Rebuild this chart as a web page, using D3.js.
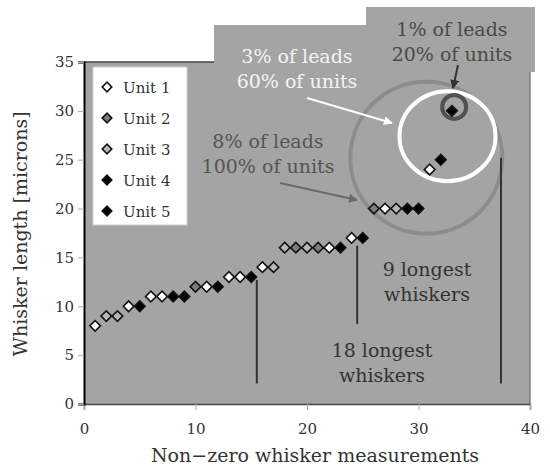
<!DOCTYPE html>
<html>
<head>
<meta charset="utf-8">
<script src="https://cdn.jsdelivr.net/npm/d3@7"></script>
<style>
  body { margin: 0; background: #fff; }
  text { font-family: "DejaVu Serif", serif; }
</style>
</head>
<body>
<svg id="chart"></svg>
<script>
var width = 550;
var height = 467;
var margin = {left: 84, right: 20, top: 62, bottom: 63};

// whisker rank (x) and length (y), plus which unit each one came from
var ranks = d3.range(1, 34);
var lengths = [8, 9, 9, 10, 10, 11, 11, 11, 11, 12, 12, 12, 13, 13, 13, 14, 14,
               16, 16, 16, 16, 16, 16, 17, 17, 20, 20, 20, 20, 20, 24, 25, 30];
var units = [1, 3, 3, 1, 4, 1, 1, 5, 5, 2, 1, 4, 1, 1, 4, 1, 3,
             3, 2, 3, 2, 1, 5, 1, 4, 2, 1, 3, 5, 4, 1, 4, 5];
var unitNames = ["Unit 1", "Unit 2", "Unit 3", "Unit 4", "Unit 5"];
var unitFills = ["#ffffff", "#7d7d7d", "#b8b8b8", "#000000", "#000000"];
var xTicks = [0, 10, 20, 30, 40];
var yTicks = [0, 5, 10, 15, 20, 25, 30, 35];

// marker lines (x, from y, to y) in data units
var guideX = [15.5, 24.5, 37.4];
var guideY0 = [2.1, 8.2, 2.1];
var guideY1 = [12.7, 16.2, 25.2];

var data = ranks.map(function (r, i) {
    return {x: r, y: lengths[i], unit: units[i]};
});

var x = d3.scaleLinear().domain([0, 40]).range([margin.left, 530]);
var y = d3.scaleLinear().domain([0, 35]).range([404, margin.top]);

var svg = d3.select("#chart").attr("width", width).attr("height", height);

var plotGray = "#a4a4a4";
var textColor = "#333";

// the grey boxes that stick out above the plot
svg.append("path")
    .attr("d", "M214,25 H366 V7 H535 V72 H530 V62 H214 Z")
    .attr("fill", plotGray);

svg.append("rect")
    .attr("x", x(0)).attr("y", y(35))
    .attr("width", x(40) - x(0)).attr("height", y(0) - y(35))
    .attr("fill", plotGray);

svg.append("line")
    .attr("x1", x(0)).attr("x2", 214).attr("y1", y(35)).attr("y2", y(35))
    .attr("stroke", "#444").attr("stroke-width", 1.5);
svg.append("line")
    .attr("x1", x(40)).attr("x2", x(40)).attr("y1", 72).attr("y2", y(0))
    .attr("stroke", "#555").attr("stroke-width", 1);

var xAxis = d3.axisBottom(x).tickValues(xTicks).tickSize(6).tickPadding(13);
var yAxis = d3.axisLeft(y).tickValues(yTicks).tickSize(6).tickPadding(4);

var gx = svg.append("g").attr("transform", "translate(0," + y(0) + ")").call(xAxis);
var gy = svg.append("g").attr("transform", "translate(" + x(0) + ",0)").call(yAxis);

gx.select(".domain").attr("stroke", "#444").attr("stroke-width", 1.5);
gy.select(".domain").attr("stroke", "#000").attr("stroke-width", 2);
svg.selectAll(".tick line").attr("stroke", "#aaa");
svg.selectAll(".tick text").attr("font-family", "DejaVu Serif")
    .attr("font-size", 15).attr("fill", textColor);

svg.append("text")
    .attr("x", 315).attr("y", 462)
    .attr("text-anchor", "middle").attr("font-size", 19).attr("fill", textColor)
    .text("Non\u2212zero whisker measurements");

svg.append("text")
    .attr("transform", "translate(27,234) rotate(-90)")
    .attr("text-anchor", "middle").attr("font-size", 19).attr("fill", textColor)
    .text("Whisker length [microns]");

// circles around the longest whiskers
svg.append("circle")
    .attr("cx", x(30.7)).attr("cy", y(25.2)).attr("r", 76)
    .attr("fill", "none").attr("stroke", "#8c8c8c").attr("stroke-width", 4);
svg.append("ellipse")
    .attr("cx", x(32.6)).attr("cy", y(27.4)).attr("rx", 48).attr("ry", 45)
    .attr("fill", "none").attr("stroke", "#fff").attr("stroke-width", 4);
svg.append("circle")
    .attr("cx", x(33.2)).attr("cy", y(30.4)).attr("r", 12)
    .attr("fill", "none").attr("stroke", "#505050").attr("stroke-width", 4);

// vertical guide lines
svg.selectAll("line.guide")
    .data(guideX)
    .enter()
    .append("line")
    .attr("class", "guide")
    .attr("x1", function (d) { return x(d); })
    .attr("x2", function (d) { return x(d); })
    .attr("y1", function (d, i) { return y(guideY0[i]); })
    .attr("y2", function (d, i) { return y(guideY1[i]); })
    .attr("stroke", "#333").attr("stroke-width", 2);

// points
var diamond = d3.symbol().type(d3.symbolSquare).size(56);

svg.selectAll("path.pt")
    .data(data)
    .enter()
    .append("path")
    .attr("class", "pt")
    .attr("d", diamond)
    .attr("transform", function (d) {
        return "translate(" + x(d.x) + "," + y(d.y) + ") rotate(45)";
    })
    .attr("fill", function (d) { return unitFills[d.unit - 1]; })
    .attr("stroke", "#111")
    .attr("stroke-width", 1.6);

// arrows
var defs = svg.append("defs");
function arrowHead(id, color) {
    defs.append("marker")
        .attr("id", id)
        .attr("viewBox", "0 0 10 10")
        .attr("refX", 9).attr("refY", 5)
        .attr("markerWidth", 4.5).attr("markerHeight", 4.5)
        .attr("orient", "auto")
        .append("path")
        .attr("d", "M0,0 L10,5 L0,10 Z")
        .attr("fill", color);
}
arrowHead("ahWhite", "#fff");
arrowHead("ahGray", "#6a6a6a");
arrowHead("ahDark", "#333");

function arrow(x1, y1, x2, y2, color, id) {
    svg.append("line")
        .attr("x1", x1).attr("y1", y1).attr("x2", x2).attr("y2", y2)
        .attr("stroke", color).attr("stroke-width", 2)
        .attr("marker-end", "url(#" + id + ")");
}
arrow(307, 98, 392, 123, "#fff", "ahWhite");
arrow(280, 183, 357, 200, "#6a6a6a", "ahGray");
arrow(458, 65, 453, 88, "#333", "ahDark");

// annotation text
function label(lines, cx, baseline, color) {
    lines.forEach(function (t, i) {
        svg.append("text")
            .attr("x", cx).attr("y", baseline + i * 24.5)
            .attr("text-anchor", "middle")
            .attr("font-size", 19).attr("fill", color)
            .text(t);
    });
}
label(["1% of leads", "20% of units"], 452, 36, "#4a4a4a");
label(["3% of leads", "60% of units"], 297, 63, "#f4f4f4");
label(["8% of leads", "100% of units"], 268, 148, "#555");
label(["9 longest", "whiskers"], 427, 276, textColor);
label(["18 longest", "whiskers"], 382, 357, textColor);

// legend
var legend = svg.append("g");
legend.append("rect")
    .attr("x", 93).attr("y", 67).attr("width", 94).attr("height", 158)
    .attr("fill", "#fff").attr("stroke", "#d0d0d0");

var items = legend.selectAll("g.item")
    .data(unitNames)
    .enter()
    .append("g")
    .attr("class", "item")
    .attr("transform", function (d, i) { return "translate(107," + (87 + i * 31) + ")"; });

items.append("path")
    .attr("d", d3.symbol().type(d3.symbolSquare).size(46))
    .attr("transform", "rotate(45)")
    .attr("fill", function (d, i) { return unitFills[i]; })
    .attr("stroke", "#111").attr("stroke-width", 1.6);

items.append("text")
    .attr("x", 16).attr("y", 5.5)
    .attr("font-size", 15).attr("fill", textColor)
    .text(function (d) { return d; });
</script>
</body>
</html>
